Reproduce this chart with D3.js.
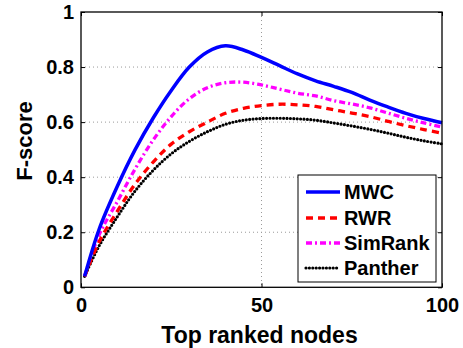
<!DOCTYPE html>
<html>
<head>
<meta charset="utf-8">
<script src="https://cdn.jsdelivr.net/npm/d3@7"></script>
<style>
  html, body { margin: 0; padding: 0; background: #fff; }
  svg { display: block; font-family: "Liberation Sans", Arial, sans-serif; }
</style>
</head>
<body>
<svg id="chart" width="463" height="348"></svg>
<script>
// Number of top ranked nodes considered
const topNodes = [1, 5, 10, 15, 20, 25, 30, 35, 40, 45, 50, 55, 60, 65, 70, 75, 80, 85, 90, 95, 100];

// F-score of each method
const mwc     = [0.04, 0.21, 0.365, 0.50, 0.615, 0.715, 0.80, 0.855, 0.877, 0.862, 0.835, 0.805, 0.775, 0.75, 0.73, 0.708, 0.68, 0.655, 0.632, 0.613, 0.598];
const rwr     = [0.04, 0.165, 0.275, 0.375, 0.455, 0.52, 0.565, 0.60, 0.632, 0.65, 0.66, 0.665, 0.663, 0.657, 0.645, 0.633, 0.62, 0.603, 0.587, 0.573, 0.56];
const simrank = [0.04, 0.19, 0.31, 0.43, 0.535, 0.62, 0.685, 0.725, 0.743, 0.745, 0.735, 0.72, 0.705, 0.695, 0.678, 0.666, 0.652, 0.633, 0.614, 0.597, 0.582];
const panther = [0.04, 0.15, 0.255, 0.35, 0.425, 0.485, 0.53, 0.565, 0.592, 0.607, 0.613, 0.614, 0.612, 0.607, 0.597, 0.586, 0.574, 0.56, 0.545, 0.532, 0.521];

const seriesNames = ["MWC", "RWR", "SimRank", "Panther"];
const xTicks = [0, 50, 100];
const yTicks = [0, 0.2, 0.4, 0.6, 0.8, 1];

const series = [
  { name: seriesNames[0], values: mwc,     color: "#0000ff", dash: null,        width: 3.5, cap: "butt" },
  { name: seriesNames[1], values: rwr,     color: "#ff0000", dash: "7,5",       width: 3.3, cap: "butt" },
  { name: seriesNames[2], values: simrank, color: "#ff00ff", dash: "6,3,2,3",   width: 3.3, cap: "butt" },
  { name: seriesNames[3], values: panther, color: "#000000", dash: "0,3.4",     width: 3.2, cap: "round" }
];

const svg = d3.select("#chart");
const margin = { left: 81, right: 21, top: 12, bottom: 61 };
const W = 463, H = 348;
const x = d3.scaleLinear().domain([0, 100]).range([margin.left, W - margin.right]);
const y = d3.scaleLinear().domain([0, 1]).range([H - margin.bottom + 0.3, margin.top]);

const plotL = x(0), plotR = x(100), plotT = y(1), plotB = y(0);

// dotted grid
const grid = svg.append("g");
yTicks.filter(t => t > 0 && t < 1).forEach(t => {
  grid.append("line").attr("x1", plotL).attr("x2", plotR).attr("y1", y(t)).attr("y2", y(t))
    .attr("stroke", "#9a9a9a").attr("stroke-width", 1).attr("stroke-dasharray", "1,3");
});
xTicks.filter(t => t > 0 && t < 100).forEach(t => {
  grid.append("line").attr("x1", x(t)).attr("x2", x(t)).attr("y1", plotT).attr("y2", plotB)
    .attr("stroke", "#9a9a9a").attr("stroke-width", 1).attr("stroke-dasharray", "1,3");
});

// axes (ticks pointing inward, labels outside)
const fontSize = 20;
const xAxis = d3.axisBottom(x).tickValues(xTicks).tickSize(-4).tickPadding(8).tickFormat(d3.format("d"));
const yAxis = d3.axisLeft(y).tickValues(yTicks).tickSize(-4).tickPadding(7).tickFormat(d => d === 0 || d === 1 ? String(d) : d3.format(".1f")(d));

const gx = svg.append("g").attr("transform", `translate(0,${plotB})`).call(xAxis);
const gy = svg.append("g").attr("transform", `translate(${plotL},0)`).call(yAxis);
[gx, gy].forEach(g => {
  g.select(".domain").remove();
  g.selectAll(".tick line").attr("stroke", "#000").attr("stroke-width", 1);
  g.selectAll(".tick text").attr("fill", "#000").attr("font-size", fontSize).attr("font-weight", "bold")
    .attr("font-family", "Liberation Sans, Arial, sans-serif");
});
gx.selectAll(".tick text").attr("y", 0).attr("dy", 0).attr("dominant-baseline", "auto")
  .attr("transform", "translate(0,25)");
// mirrored ticks on top and right
svg.append("g").attr("transform", `translate(0,${plotT})`)
  .call(d3.axisTop(x).tickValues(xTicks).tickSize(-4).tickFormat(""))
  .call(g => g.select(".domain").remove());
svg.append("g").attr("transform", `translate(${plotR},0)`)
  .call(d3.axisRight(y).tickValues(yTicks).tickSize(-4).tickFormat(""))
  .call(g => g.select(".domain").remove());

// curves
const line = d3.line()
  .x((d, i) => x(topNodes[i]))
  .y(d => y(d))
  .curve(d3.curveCatmullRom.alpha(0.5));

const linesG = svg.append("g");
series.slice().reverse().forEach(s => {
  linesG.append("path")
    .attr("d", line(s.values))
    .attr("fill", "none")
    .attr("stroke", s.color)
    .attr("stroke-width", s.width)
    .attr("stroke-linecap", s.cap)
    .attr("stroke-linejoin", "round")
    .attr("stroke-dasharray", s.dash);
});

// plot box
svg.append("rect").attr("x", plotL).attr("y", plotT).attr("width", plotR - plotL).attr("height", plotB - plotT)
  .attr("fill", "none").attr("stroke", "#000").attr("stroke-width", 1.3);

// axis titles
svg.append("text").attr("x", 259.5).attr("y", 343).attr("text-anchor", "middle")
  .attr("font-size", 23).attr("font-weight", "bold").text("Top ranked nodes");
svg.append("text").attr("transform", `translate(31.5,141) rotate(-90)`)
  .attr("text-anchor", "middle").attr("font-size", 22).attr("font-weight", "bold").text("F-score");

// legend
const lg = svg.append("g");
const lgX = 298, lgY = 175, lgW = 138, lgH = 107;
lg.append("rect").attr("x", lgX).attr("y", lgY).attr("width", lgW).attr("height", lgH)
  .attr("fill", "#fff").attr("stroke", "#000").attr("stroke-width", 1);
const rowY = [192, 218, 243, 268];
series.forEach((s, i) => {
  lg.append("line").attr("x1", 306).attr("x2", 340).attr("y1", rowY[i]).attr("y2", rowY[i])
    .attr("stroke", s.color).attr("stroke-width", s.width)
    .attr("stroke-linecap", s.cap).attr("stroke-dasharray", s.dash);
  lg.append("text").attr("x", 344).attr("y", rowY[i]).attr("dy", "0.36em")
    .attr("font-size", 20).attr("font-weight", "bold").text(s.name);
});
</script>
</body>
</html>
